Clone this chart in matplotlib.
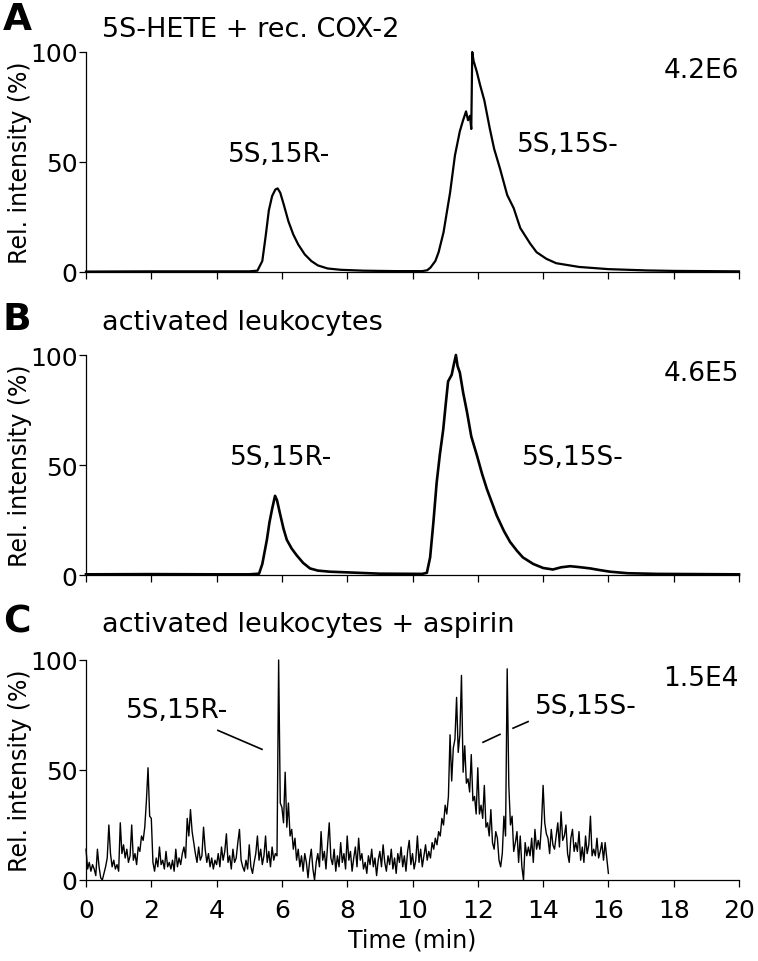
import numpy as np
import matplotlib.pyplot as plt

# Panel A: 5S-HETE + rec. COX-2 (time in min, rel. intensity in %)
a_time = [0, 2, 4, 5.0, 5.25, 5.4, 5.5, 5.6, 5.7, 5.8, 5.87, 5.95, 6.05, 6.2,
          6.35, 6.5, 6.7, 6.9, 7.1, 7.4, 7.8, 8.5, 9.5, 10.3, 10.45, 10.55,
          10.7, 10.8, 10.95, 11.05, 11.15, 11.3, 11.45, 11.55, 11.64, 11.7,
          11.76, 11.8, 11.83, 11.87, 11.97, 12.07, 12.2, 12.37, 12.5, 12.68,
          12.9, 13.1, 13.3, 13.6, 13.8, 14.1, 14.4, 15.1, 16, 17.2, 18, 20]
a_val = [0.2, 0.3, 0.3, 0.3, 0.6, 5, 16, 28, 34.5, 37.5, 38, 36, 31, 23,
         17, 12.5, 8, 5, 3, 1.6, 1, 0.6, 0.4, 0.4, 0.8, 2,
         5, 9, 18, 27, 36, 53, 64, 69, 73, 69,
         71, 65, 100, 96, 91, 85, 78, 65, 56, 47,
         35, 29, 20, 13, 9, 6, 4, 2.3, 1.3, 0.7, 0.5, 0.3]

# Panel B: activated leukocytes
b_time = [0, 2, 4, 5.0, 5.3, 5.4, 5.54, 5.62, 5.7, 5.79, 5.85, 5.94, 6.05,
          6.15, 6.3, 6.45, 6.65, 6.86, 7.1, 7.47, 8.0, 9, 10.3, 10.44, 10.54,
          10.64, 10.74, 10.84, 10.94, 11.02, 11.09, 11.2, 11.27, 11.33, 11.38,
          11.45, 11.55, 11.67, 11.8, 11.98, 12.13, 12.28, 12.43, 12.58, 12.8,
          12.99, 13.2, 13.38, 13.7, 14.0, 14.3, 14.55, 14.83, 15.1, 15.44,
          15.75, 16.05, 16.6, 17.5, 20]
b_val = [0.3, 0.4, 0.3, 0.3, 0.6, 5, 16, 24, 30, 36, 34, 28, 21,
         16, 12, 9, 5.5, 3, 2, 1.5, 1.2, 0.6, 0.5, 1, 8,
         24, 42, 55, 66, 78, 88, 91, 96, 100, 95,
         92, 83, 74, 63, 54, 46, 39, 33, 27, 20,
         15, 11, 8, 5, 3.2, 2.5, 3.5, 4, 3.6, 3,
         2.2, 1.5, 0.8, 0.5, 0.3]

# Panel C: activated leukocytes + aspirin, one value every 0.05 min from 0 to 16
c_step = 0.05
c_val = [
    14, 5, 8, 4, 7, 5, 2, 14, 6, 1, 0, 3, 6, 10, 25, 12, 6, 9, 5, 7,
    4, 26, 12, 16, 10, 14, 8, 11, 25, 9, 12, 7, 15, 13, 20, 18, 24, 36, 51, 29,
    28, 8, 4, 10, 6, 15, 7, 9, 5, 13, 6, 8, 5, 9, 4, 14, 6, 10, 7, 12,
    15, 10, 28, 20, 32, 22, 17, 12, 8, 15, 9, 11, 24, 14, 8, 12, 6, 10, 5, 9,
    7, 12, 6, 15, 9, 13, 21, 8, 11, 5, 14, 8, 10, 17, 23, 9, 6, 4, 9, 5,
    16, 6, 3, 8, 12, 20, 9, 14, 7, 11, 20, 8, 13, 6, 15, 9, 12, 11, 100, 35,
    33, 26, 49, 24, 35, 20, 23, 14, 19, 9, 14, 6, 11, 4, 12, 8, 1, 9, 14, 5,
    0, 8, 12, 6, 22, 9, 13, 5, 16, 26, 10, 7, 14, 4, 11, 6, 17, 8, 12, 5,
    20, 9, 13, 4, 10, 15, 6, 19, 9, 12, 5, 8, 3, 11, 7, 14, 6, 10, 2, 9,
    13, 6, 16, 8, 4, 11, 7, 14, 5, 10, 3, 12, 8, 15, 6, 11, 4, 13, 18, 7,
    12, 5, 9, 20, 8, 14, 6, 11, 16, 9, 13, 10, 17, 14, 19, 16, 22, 20, 28, 25,
    34, 30, 38, 66, 45, 60, 64, 83, 58, 66, 93, 49, 61, 44, 46, 40, 57, 36, 38, 30,
    51, 30, 34, 28, 43, 24, 26, 20, 32, 17, 14, 22, 19, 9, 6, 12, 29, 20, 96, 43,
    25, 29, 13, 17, 22, 8, 20, 6, 0, 17, 11, 15, 11, 19, 8, 23, 14, 18, 14, 25,
    43, 26, 21, 19, 12, 23, 16, 14, 20, 26, 15, 31, 18, 20, 25, 12, 8, 19, 23, 13,
    17, 13, 22, 9, 15, 8, 20, 12, 16, 29, 11, 14, 11, 19, 10, 13, 17, 9, 17, 10,
    3,
]
c_time = np.arange(len(c_val)) * c_step

titles = ['5S-HETE + rec. COX-2', 'activated leukocytes',
          'activated leukocytes + aspirin']
letters = ['A', 'B', 'C']
scales = ['4.2E6', '4.6E5', '1.5E4']
xticks = list(range(0, 21, 2))
yticks = [0, 50, 100]

W, H = 758, 962
fig = plt.figure(figsize=(W / 100, H / 100), dpi=100)
plt.rcParams['font.family'] = ['DejaVu Sans']

left, width, height = 86 / W, 653 / W, 220 / H
bottoms = [1 - 273 / H, 1 - 576 / H, 1 - 881 / H]
series = [(a_time, a_val, 1.6), (b_time, b_val, 1.9), (c_time, c_val, 1.0)]

# title / letter vertical centres in pixels
title_y = [30, 323, 625]
letter_y = [20, 320, 623]

axes = []
for i in range(3):
    ax = fig.add_axes([left, bottoms[i], width, height])
    t, v, lw = series[i]
    ax.plot(t, v, color='black', lw=lw, clip_on=False, zorder=3)
    ax.set_xlim(0, 20)
    ax.set_ylim(0, 100)
    ax.spines['top'].set_visible(False)
    ax.spines['right'].set_visible(False)
    for s in ['left', 'bottom']:
        ax.spines[s].set_linewidth(0.9)
    ax.set_xticks(xticks)
    ax.set_yticks(yticks)
    ax.tick_params(direction='out', length=5, width=0.9, labelsize=18)
    ax.tick_params(axis='y', pad=1)
    ax.tick_params(axis='x', pad=8)
    if i < 2:
        ax.set_xticklabels([])
    ax.set_ylabel('Rel. intensity (%)', fontsize=17)
    ax.yaxis.set_label_coords(-0.083, 0.5)
    ax.text(20, 92, scales[i], fontsize=19, ha='right', va='center')
    fig.text(3 / W, 1 - letter_y[i] / H, letters[i], fontsize=27,
             fontweight='bold', ha='left', va='center')
    fig.text(102 / W, 1 - title_y[i] / H, titles[i], fontsize=19.5,
             ha='left', va='center')
    axes.append(ax)

axA, axB, axC = axes
axA.text(5.91, 53.6, '5S,15R-', fontsize=19, ha='center', va='center')
axA.text(14.76, 58.2, '5S,15S-', fontsize=19, ha='center', va='center')
axB.text(5.97, 53.7, '5S,15R-', fontsize=19, ha='center', va='center')
axB.text(14.9, 53.7, '5S,15S-', fontsize=19, ha='center', va='center')
axC.text(2.79, 77.2, '5S,15R-', fontsize=19, ha='center', va='center')
axC.text(15.31, 79, '5S,15S-', fontsize=19, ha='center', va='center')

# pointer lines in panel C
axC.plot([4.04, 5.39], [68, 59.4], color='black', lw=1.2)
axC.plot([12.16, 12.68], [62.6, 66.2], color='black', lw=1.2)
axC.plot([13.08, 13.54], [69, 72], color='black', lw=1.2)

axC.set_xlabel('Time (min)', fontsize=17, labelpad=4)

fig.savefig('out.png', dpi=100)
